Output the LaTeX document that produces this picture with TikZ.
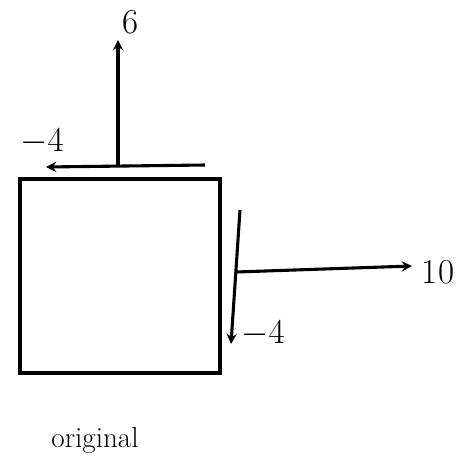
\documentclass[tikz,border=0pt]{standalone}
\usepackage{amsmath, amssymb}
\usepackage{xcolor}
\usepackage{tikz}

\begin{document}
\begin{tikzpicture}[
  x=0.025cm, y=-0.025cm,
  >=stealth,
  edge/.style={->, line width=2.2pt},
  lbl/.style={font=\Huge},
  blk/.style={draw, line width=2.2pt, minimum width=5cm, minimum height=4.85cm, inner sep=0pt}
]
  \useasboundingbox (0,0) rectangle (459,474);

  % nodes
  \node[blk] (box) at (120,276) {};
  \coordinate (tl)   at (46,167);
  \coordinate (tr)   at (205,165);
  \coordinate (tm)   at (118,166);
  \coordinate (top)  at (118,40);
  \coordinate (rt)   at (240,210);
  \coordinate (rb)   at (231,344);
  \coordinate (rm)   at (236,272);
  \coordinate (rend) at (412,266);

  \node[lbl] (six)   at (131,22)  {6};
  \node[lbl] (mtop)  at (42,142)  {$-4$};
  \node[lbl] (ten)   at (438,272) {10};
  \node[lbl] (mrgt)  at (263,334) {$-4$};
  \node[font=\huge] (orig) at (95,440) {original};

  % edges
  \draw[edge] (tr) -- (tl);
  \draw[edge] (tm) -- (top);
  \draw[edge] (rt) -- (rb);
  \draw[edge] (rm) -- (rend);
\end{tikzpicture}
\end{document}
